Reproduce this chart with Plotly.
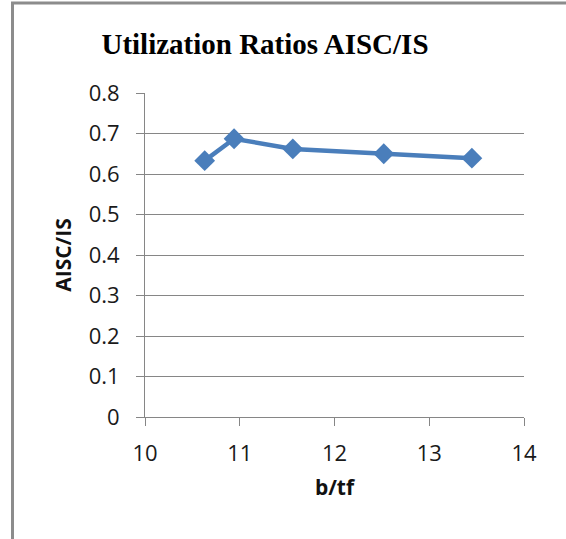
import plotly.graph_objects as go

b_tf = [10.63, 10.94, 11.56, 12.52, 13.45]
ratio = [0.633, 0.687, 0.662, 0.650, 0.639]
x_ticks = [10, 11, 12, 13, 14]
y_ticks = [0, 0.1, 0.2, 0.3, 0.4, 0.5, 0.6, 0.7, 0.8]

W, H = 566, 539
L, R, T, B = 145, 42, 93, 122

fig = go.Figure()
fig.add_trace(go.Scatter(
    x=b_tf, y=ratio, mode="lines+markers",
    line=dict(color="#4A7EBB", width=4.5),
    marker=dict(symbol="diamond", size=16, color="#4A7EBB"),
    showlegend=False,
))

tick_font = dict(family="Open Sans, Liberation Sans, sans-serif", size=22, color="#1a1a1a")
title_font = dict(family="Open Sans, Liberation Sans, sans-serif", size=21, color="#111111")

fig.update_layout(
    width=W, height=H,
    margin=dict(l=L, r=R, t=T, b=B),
    paper_bgcolor="white", plot_bgcolor="white",
    title=dict(text="<b>Utilization Ratios AISC/IS</b>",
               font=dict(family="Liberation Serif, Times New Roman, serif", size=29, color="black"),
               x=265 / W, xref="container", xanchor="center",
               y=1 - 44 / H, yref="container", yanchor="middle"),
    xaxis=dict(range=[10, 14], tickvals=x_ticks, ticktext=[str(v) for v in x_ticks],
               showgrid=False, zeroline=False, showline=True, linecolor="#868686", linewidth=1,
               ticks="outside", ticklen=8, tickcolor="#868686", tickfont=tick_font,
               ticklabelstandoff=9,
               title=dict(text="<b>b/tf</b>", font=title_font, standoff=13)),
    yaxis=dict(range=[0, 0.8], tickvals=y_ticks, ticktext=["0" if v == 0 else f"{v:.1f}" for v in y_ticks],
               showgrid=True, gridcolor="#868686", gridwidth=1, zeroline=False,
               showline=True, linecolor="#868686", linewidth=1,
               ticks="outside", ticklen=8, tickcolor="#868686", tickfont=tick_font,
               ticklabelstandoff=12,
               title=dict(text="<b>AISC/IS</b>", font=title_font, standoff=11)),
)

# outer chart frame (left and top edges visible)
fig.add_shape(type="line", xref="paper", yref="paper",
              x0=(12.5 - L) / (W - L - R), x1=(12.5 - L) / (W - L - R),
              y0=(H - B - 3) / (H - T - B), y1=(H - B - 560) / (H - T - B),
              line=dict(color="#8C8C8C", width=3))
fig.add_shape(type="line", xref="paper", yref="paper",
              x0=(11 - L) / (W - L - R), x1=(600 - L) / (W - L - R),
              y0=(H - B - 3) / (H - T - B), y1=(H - B - 3) / (H - T - B),
              line=dict(color="#8C8C8C", width=3))

fig.write_html("out.html")
